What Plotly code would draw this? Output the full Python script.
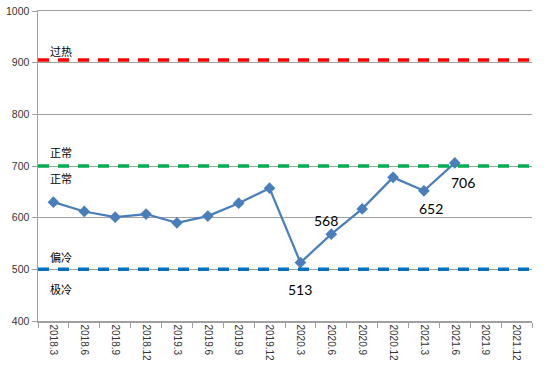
import plotly.graph_objects as go

categories = ["2018.3", "2018.6", "2018.9", "2018.12", "2019.3", "2019.6", "2019.9", "2019.12",
              "2020.3", "2020.6", "2020.9", "2020.12", "2021.3", "2021.6", "2021.9", "2021.12"]
values = [630, 612, 601, 607, 590, 603, 628, 657, 513, 568, 617, 678, 652, 706, None, None]

overheat_level = 905
normal_level = 700
cold_level = 500

zone_labels = ["过热", "正常", "正常", "偏冷", "极冷"]
zone_label_y = [923, 727, 677, 523, 461]

labeled_idx = [8, 9, 12, 13]
label_pos = [(8.0, 461), (8.82, 595), (12.22, 618), (13.26, 668)]

fig = go.Figure()

n = len(categories)
for level, color in [(overheat_level, "#FF0000"), (normal_level, "#00B050"), (cold_level, "#0070C0")]:
    fig.add_shape(type="line", xref="x", yref="y", x0=-0.5, x1=n - 0.5, y0=level, y1=level,
                  line=dict(color=color, width=3.5, dash="11px,9px"), layer="above")

fig.add_trace(go.Scatter(
    x=categories, y=values, mode="lines+markers",
    line=dict(color="#4A7EBB", width=2.2),
    marker=dict(symbol="diamond", size=9, color="#4A7EBB"),
    connectgaps=False, showlegend=False, cliponaxis=False, hoverinfo="skip",
))

for txt, yv in zip(zone_labels, zone_label_y):
    fig.add_annotation(x=0.02, xref="paper", y=yv, yref="y", text=txt, showarrow=False,
                       xanchor="left", yanchor="middle",
                       font=dict(family="Noto Sans CJK SC", size=11, color="#000000"))

for i, (xp, yp) in zip(labeled_idx, label_pos):
    fig.add_annotation(x=xp, xref="x", y=yp, yref="y", text=str(values[i]), showarrow=False,
                       xanchor="center", yanchor="middle",
                       font=dict(family="Lato", size=14, color="#000000"))

fig.update_layout(
    width=558, height=372,
    margin=dict(l=38, r=26, t=11, b=51, autoexpand=False),
    paper_bgcolor="white", plot_bgcolor="white",
    font=dict(family="Liberation Sans", size=10, color="#333333"),
    hovermode=False,
)
fig.update_xaxes(
    type="category", categoryorder="array", categoryarray=categories,
    range=[-0.5, n - 0.5], tickangle=90, automargin=False,
    showline=True, linecolor="#A0A0A0", linewidth=1.5, mirror=True,
    ticks="outside", tickson="boundaries", ticklen=5, tickcolor="#A0A0A0",
    showgrid=False, tickfont=dict(size=10, color="#333333"),
)
fig.update_yaxes(
    range=[400, 1000], dtick=100, automargin=False,
    showline=True, linecolor="#A0A0A0", linewidth=1.5,
    ticks="outside", ticklen=5, tickcolor="#A0A0A0",
    showgrid=True, gridcolor="#A0A0A0", gridwidth=1, zeroline=False,
    tickfont=dict(size=10.5, color="#333333"),
)

fig.write_html("out.html", config={"displayModeBar": False, "staticPlot": True},
               post_script="document.body.style.margin='0';document.body.style.overflow='hidden';")
